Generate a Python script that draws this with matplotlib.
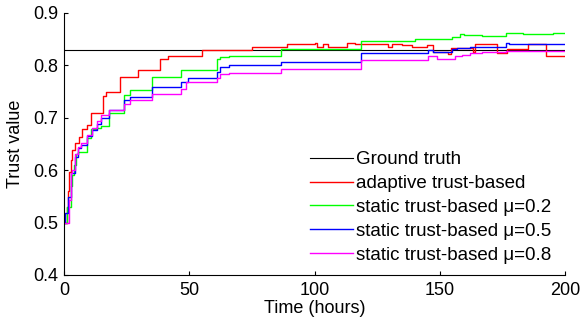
import matplotlib.pyplot as plt
import numpy as np

plt.rcParams['font.family'] = ['Liberation Sans', 'DejaVu Sans']

ground_truth = 0.83

red_t = [0, 1.2, 1.5, 2.0, 2.6, 3.1, 4.5, 5.8, 7.1, 9.2, 10.8, 15.5, 16.8, 22.2, 29.5,
         38.5, 41.5, 55, 75, 89, 100, 101, 103.3, 105.5, 112.8, 116.2, 122.2, 129.5,
         131, 135, 139, 145, 147.4, 153.4, 154.5, 163.4, 164, 170.7, 172.7, 176.7,
         185.4, 192.4, 200]
red_v = [0.5, 0.53, 0.56, 0.597, 0.619, 0.639, 0.652, 0.664, 0.678, 0.686, 0.709,
         0.742, 0.750, 0.777, 0.791, 0.813, 0.818, 0.829, 0.835, 0.840, 0.843, 0.835,
         0.840, 0.836, 0.842, 0.840, 0.841, 0.835, 0.841, 0.838, 0.835, 0.838, 0.826,
         0.822, 0.834, 0.825, 0.840, 0.841, 0.823, 0.832, 0.840, 0.818, 0.818]

green_t = [0, 1.0, 2.6, 3.1, 3.9, 4.8, 5.5, 9.2, 10.8, 12.8, 14.8, 17.8, 24, 26.5, 35,
           46.8, 60.9, 62.2, 65.8, 86.7, 118.7, 140, 145.4, 154.8, 158.1, 159.5,
           166.8, 176.5, 183.4, 195.3, 200]
green_v = [0.5, 0.53, 0.569, 0.591, 0.61, 0.631, 0.635, 0.661, 0.678, 0.680, 0.684,
           0.709, 0.743, 0.753, 0.777, 0.791, 0.813, 0.816, 0.818, 0.832, 0.846,
           0.850, 0.851, 0.855, 0.859, 0.858, 0.856, 0.862, 0.859, 0.862, 0.862]

blue_t = [0, 0.5, 1.5, 2.6, 4.5, 5.5, 6.9, 9.2, 11.1, 13.2, 14.8, 17.8, 24, 26.5, 35,
          46.8, 49.5, 60.9, 62.2, 65.8, 86.7, 118.7, 145.4, 147.4, 154.8, 156.8,
          162.1, 176.5, 177.8, 200]
blue_v = [0.5, 0.518, 0.549, 0.595, 0.626, 0.642, 0.648, 0.665, 0.677, 0.688, 0.699,
          0.715, 0.734, 0.739, 0.758, 0.769, 0.775, 0.788, 0.796, 0.800, 0.807, 0.823,
          0.829, 0.826, 0.831, 0.834, 0.836, 0.842, 0.840, 0.840]

mag_t = [0, 2.0, 2.6, 3.1, 4.5, 5.5, 6.9, 9.2, 11.1, 13.2, 14.8, 17.8, 24, 26.5, 35,
         46.8, 48.8, 60.9, 62.2, 65.8, 86.7, 118.7, 145.4, 148.8, 156.1, 158.8, 162.1,
         166.8, 176.5, 200]
mag_v = [0.5, 0.543, 0.595, 0.6, 0.631, 0.645, 0.652, 0.667, 0.680, 0.693, 0.705,
         0.715, 0.726, 0.733, 0.745, 0.754, 0.768, 0.775, 0.783, 0.786, 0.793, 0.810,
         0.818, 0.812, 0.818, 0.820, 0.823, 0.826, 0.827, 0.827]

labels = ['Ground truth', 'adaptive trust-based', 'static trust-based μ=0.2',
          'static trust-based μ=0.5', 'static trust-based μ=0.8']

fs = 13

fig = plt.figure(figsize=(5.84, 3.28), dpi=100)
ax = fig.add_axes([0.1096, 0.1616, 0.8579, 0.7988])

ax.plot([0, 200], [ground_truth, ground_truth], color='black', lw=0.8, label=labels[0])
ax.plot(red_t, red_v, color='#ff0000', lw=1, drawstyle='steps-post', label=labels[1])
ax.plot(green_t, green_v, color='#00ff00', lw=1, drawstyle='steps-post', label=labels[2])
ax.plot(blue_t, blue_v, color='#0000ff', lw=1, drawstyle='steps-post', label=labels[3])
ax.plot(mag_t, mag_v, color='#ff00ff', lw=1, drawstyle='steps-post', label=labels[4])

ax.set_xlim(0, 200)
ax.set_ylim(0.4, 0.9)
ax.set_xticks([0, 50, 100, 150, 200])
ax.set_yticks([0.4, 0.5, 0.6, 0.7, 0.8, 0.9])
ax.spines['top'].set_visible(False)
ax.spines['right'].set_visible(False)
ax.tick_params(direction='in', length=3, labelsize=fs)
ax.tick_params(axis='x', pad=5)
ax.tick_params(axis='y', pad=4)
ax.set_xlabel('Time (hours)', fontsize=fs, labelpad=1)
ax.set_ylabel('Trust value', fontsize=fs, labelpad=7)

ax.legend(loc='lower right', bbox_to_anchor=(0.995, 0.0), frameon=False, fontsize=13.5,
          handlelength=2.3, handletextpad=0.15, labelspacing=0.36, borderaxespad=0.2)

fig.savefig('out.png', dpi=100)
